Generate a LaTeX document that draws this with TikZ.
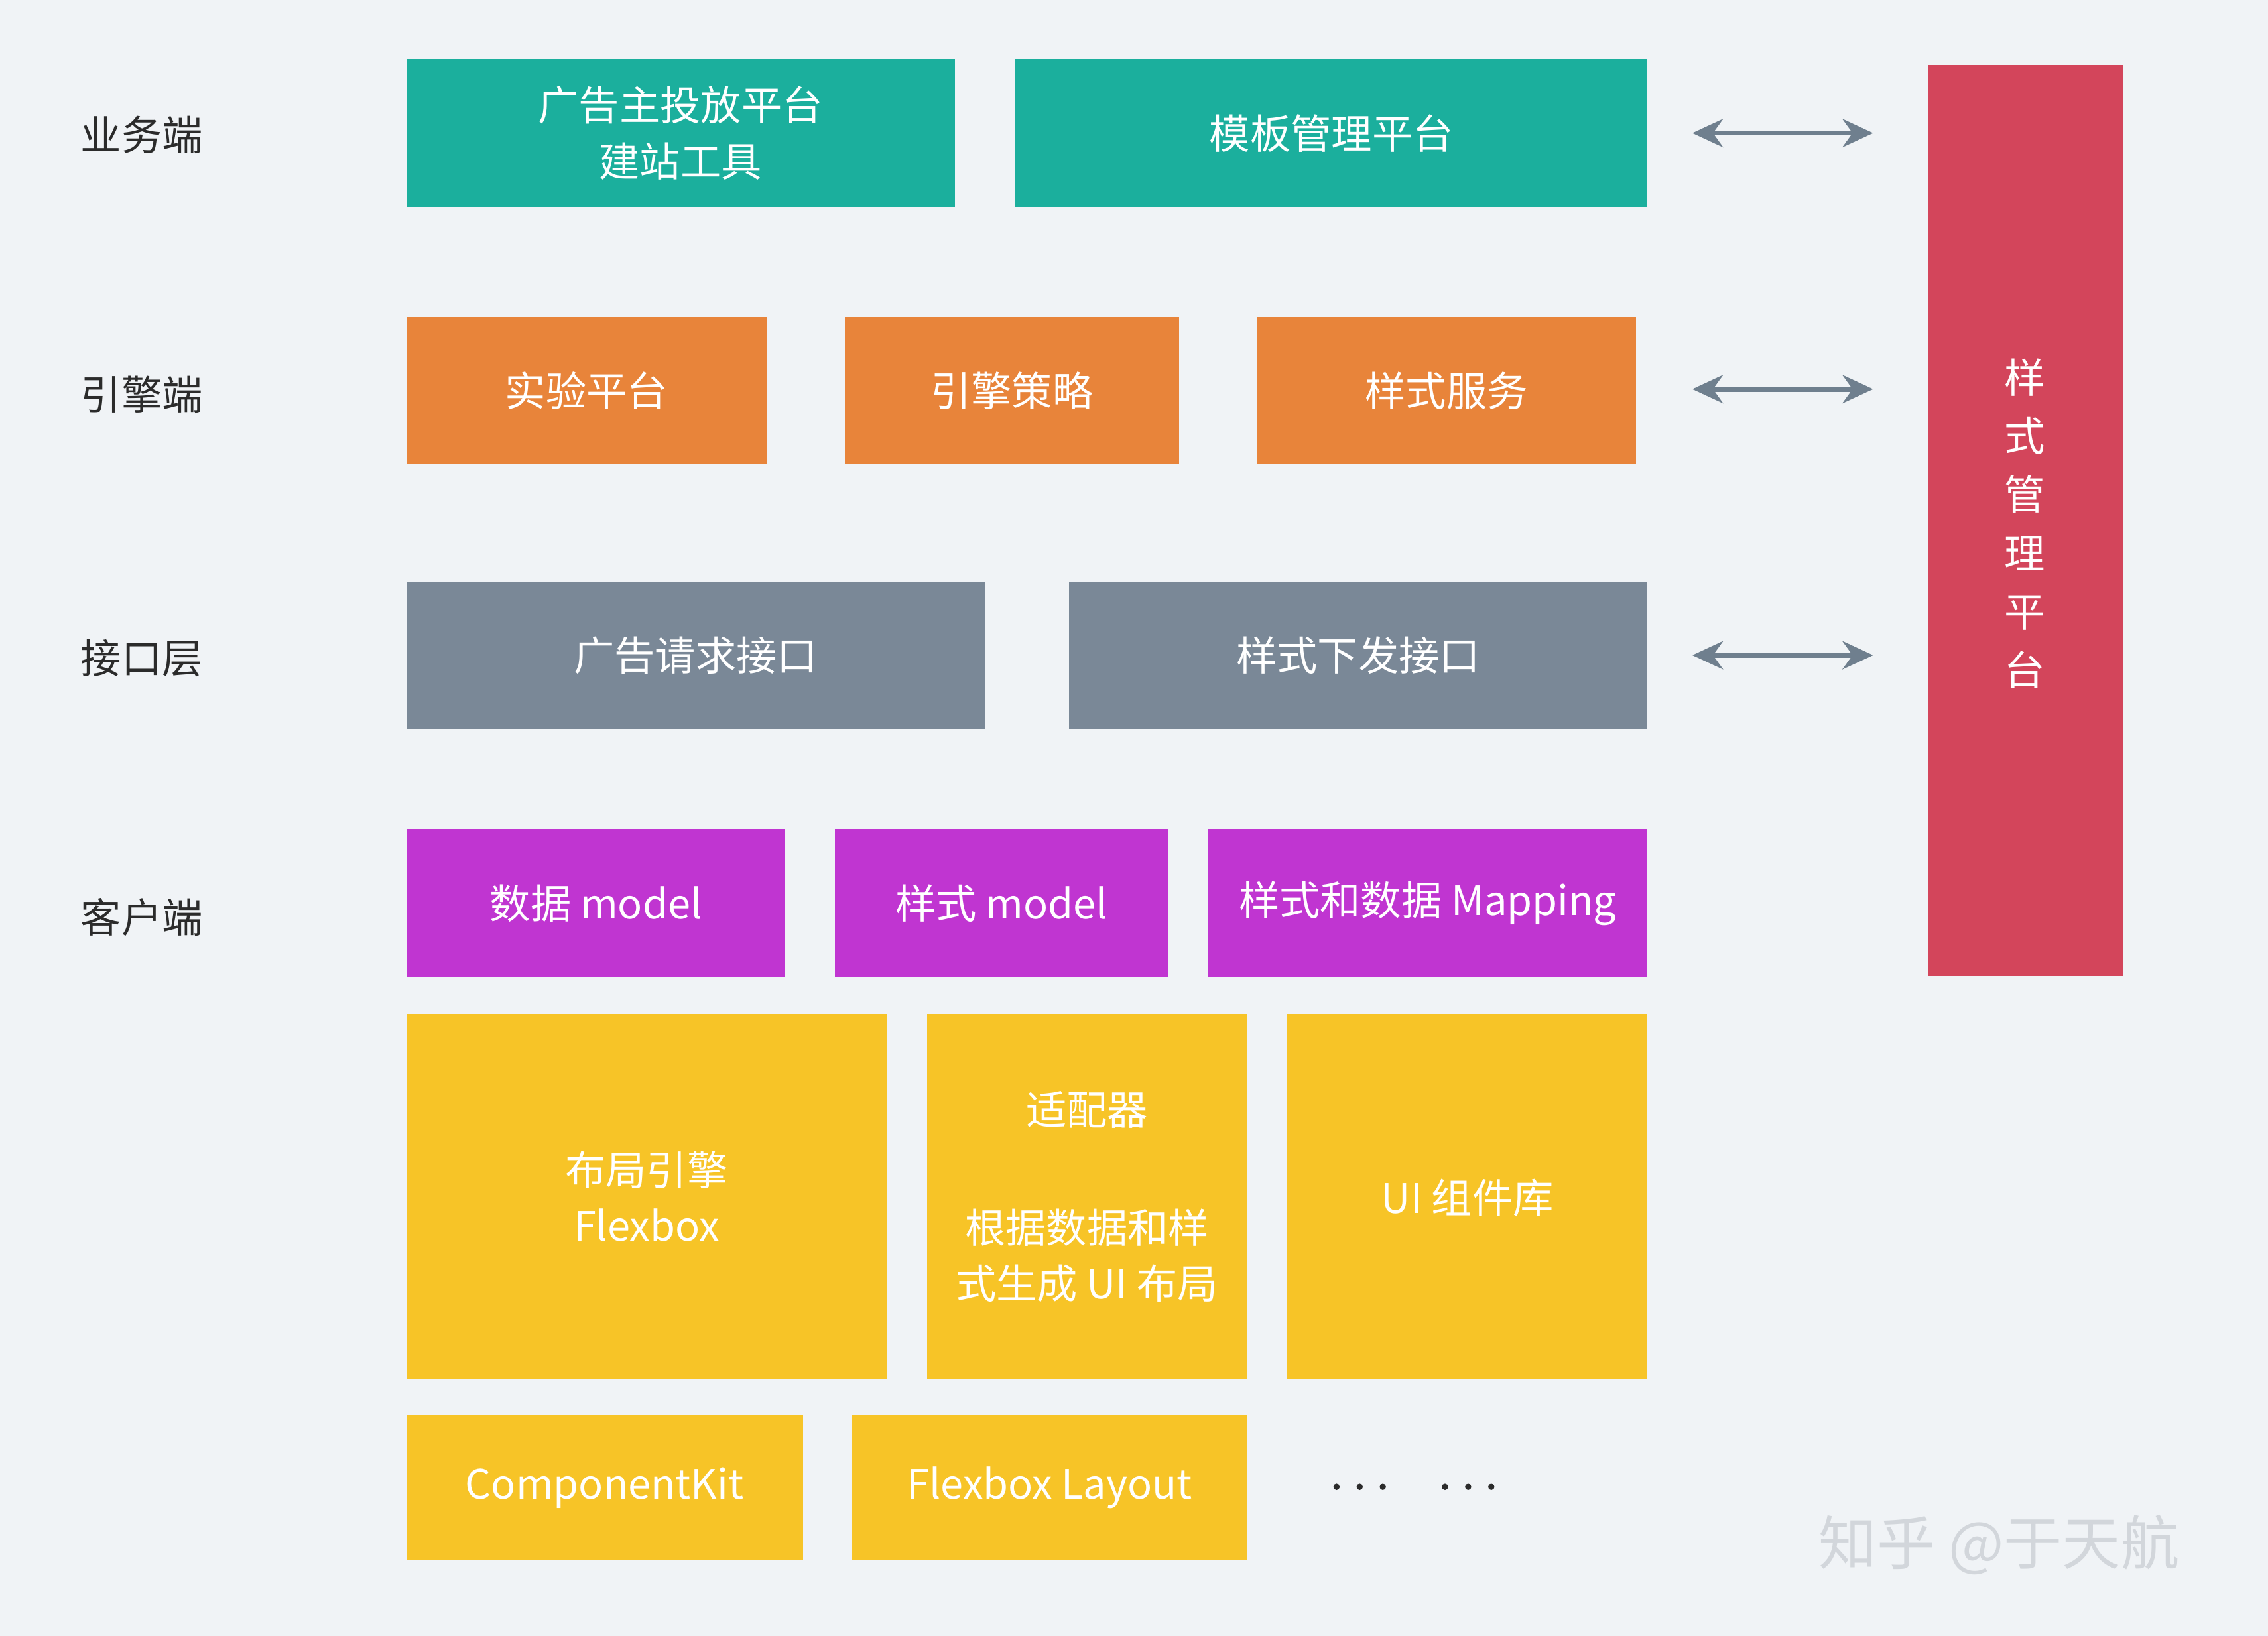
\documentclass[tikz,border=0pt]{standalone}
\usepackage{fontspec}
\setmainfont{Noto Sans CJK SC}
\usetikzlibrary{positioning,fit,arrows.meta}

\definecolor{bgcolor}{HTML}{F0F3F6}
\definecolor{tealcolor}{HTML}{1BAF9D}
\definecolor{orangecolor}{HTML}{E8843A}
\definecolor{graycolor}{HTML}{7A8897}
\definecolor{purplecolor}{HTML}{C035D1}
\definecolor{yellowcolor}{HTML}{F7C427}
\definecolor{redcolor}{HTML}{D3455B}
\definecolor{arrowcolor}{HTML}{6F7F8E}
\definecolor{labelcolor}{HTML}{2B2B2B}
\definecolor{markcolor}{HTML}{D2D6DB}

\begin{document}
\begin{tikzpicture}
    [x=0.02cm, y=-0.02cm,
    % Styles
    box/.style={inner sep=0pt, text=white, align=center,
      font=\fontsize{16}{22}\selectfont},
    block/.style={inner sep=0pt, fill=#1},
    layer label/.style={text=labelcolor, font=\fontsize{16}{21}\selectfont},
    link/.style={arrowcolor, line width=2pt, {Stealth[length=12pt,width=11pt]}-{Stealth[length=12pt,width=11pt]}}]

    % Background
    \fill[bgcolor] (0,0) rectangle (1568,1131);
    \useasboundingbox (0,0) rectangle (1568,1131);

    % Layer labels
    \node[layer label] (lbiz) at (98,93) {业务端};
    \node[layer label] (leng) at (98,273) {引擎端};
    \node[layer label] (lapi) at (98,455) {接口层};
    \node[layer label] (lcli) at (98,634) {客户端};

    % Business layer
    \node[block=tealcolor, fit={(281,41) (660,143)}] (adplat) {};
    \node[box] at (adplat) {广告主投放平台\\建站工具};
    \node[block=tealcolor, fit={(702,41) (1139,143)}] (tplplat) {};
    \node[box] at (tplplat) {模板管理平台};

    % Engine layer
    \node[block=orangecolor, fit={(281,219) (530,321)}] (exp) {};
    \node[box] at (exp) {实验平台};
    \node[block=orangecolor, fit={(584,219) (815,321)}] (strategy) {};
    \node[box] at (strategy) {引擎策略};
    \node[block=orangecolor, fit={(869,219) (1131,321)}] (stylesvc) {};
    \node[box] at (stylesvc) {样式服务};

    % Interface layer
    \node[block=graycolor, fit={(281,402) (681,504)}] (adapi) {};
    \node[box] at (adapi) {广告请求接口};
    \node[block=graycolor, fit={(739,402) (1139,504)}] (styleapi) {};
    \node[box] at (styleapi) {样式下发接口};

    % Client layer
    \node[block=purplecolor, fit={(281,573) (543,676)}] (datamodel) {};
    \node[box] at (datamodel) {数据 model};
    \node[block=purplecolor, fit={(577,573) (808,676)}] (stylemodel) {};
    \node[box] at (stylemodel) {样式 model};
    \node[block=purplecolor, fit={(835,573) (1139,676)}] (mapping) {};
    \node[box] at (mapping) {样式和数据 Mapping};

    \node[block=yellowcolor, fit={(281,701) (613,953)}] (layout) {};
    \node[box] at (layout) {布局引擎\\Flexbox};
    \node[block=yellowcolor, fit={(641,701) (862,953)}] (adapter) {};
    \node[box] (adaptertitle) at (751.5,767) {适配器};
    \node[box] (adapterdesc) at (751.5,868) {根据数据和样\\式生成 UI 布局};
    \node[block=yellowcolor, fit={(890,701) (1139,953)}] (uilib) {};
    \node[box] at (1014.5,828) {UI 组件库};

    \node[block=yellowcolor, fit={(281,978) (555,1079)}] (ckit) {};
    \node[box] at (ckit) {ComponentKit};
    \node[block=yellowcolor, fit={(589,978) (862,1079)}] (flexlayout) {};
    \node[box] at (flexlayout) {Flexbox Layout};
    % More
    \foreach \x in {924,940,956,999,1015,1031}
      \fill[labelcolor] (\x,1028) circle [radius=2.2];

    % Style management platform
    \node[block=redcolor, fit={(1333,45) (1468,675)}] (stylemgr) {};
    \node[box, font=\fontsize{16}{23}\selectfont] (stylemgrtext) at (1400,362) {样\\式\\管\\理\\平\\台};

    % Links
    \coordinate (bizl) at (1170,92);  \coordinate (bizr) at (1295,92);
    \coordinate (engl) at (1170,269); \coordinate (engr) at (1295,269);
    \coordinate (apil) at (1170,453); \coordinate (apir) at (1295,453);
    \draw[link] (bizl) -- (bizr);
    \draw[link] (engl) -- (engr);
    \draw[link] (apil) -- (apir);

    % Watermark
    \node[text=markcolor, font=\fontsize{23}{27}\selectfont] (mark) at (1382,1068) {知乎 @于天航};
\end{tikzpicture}
\end{document}
